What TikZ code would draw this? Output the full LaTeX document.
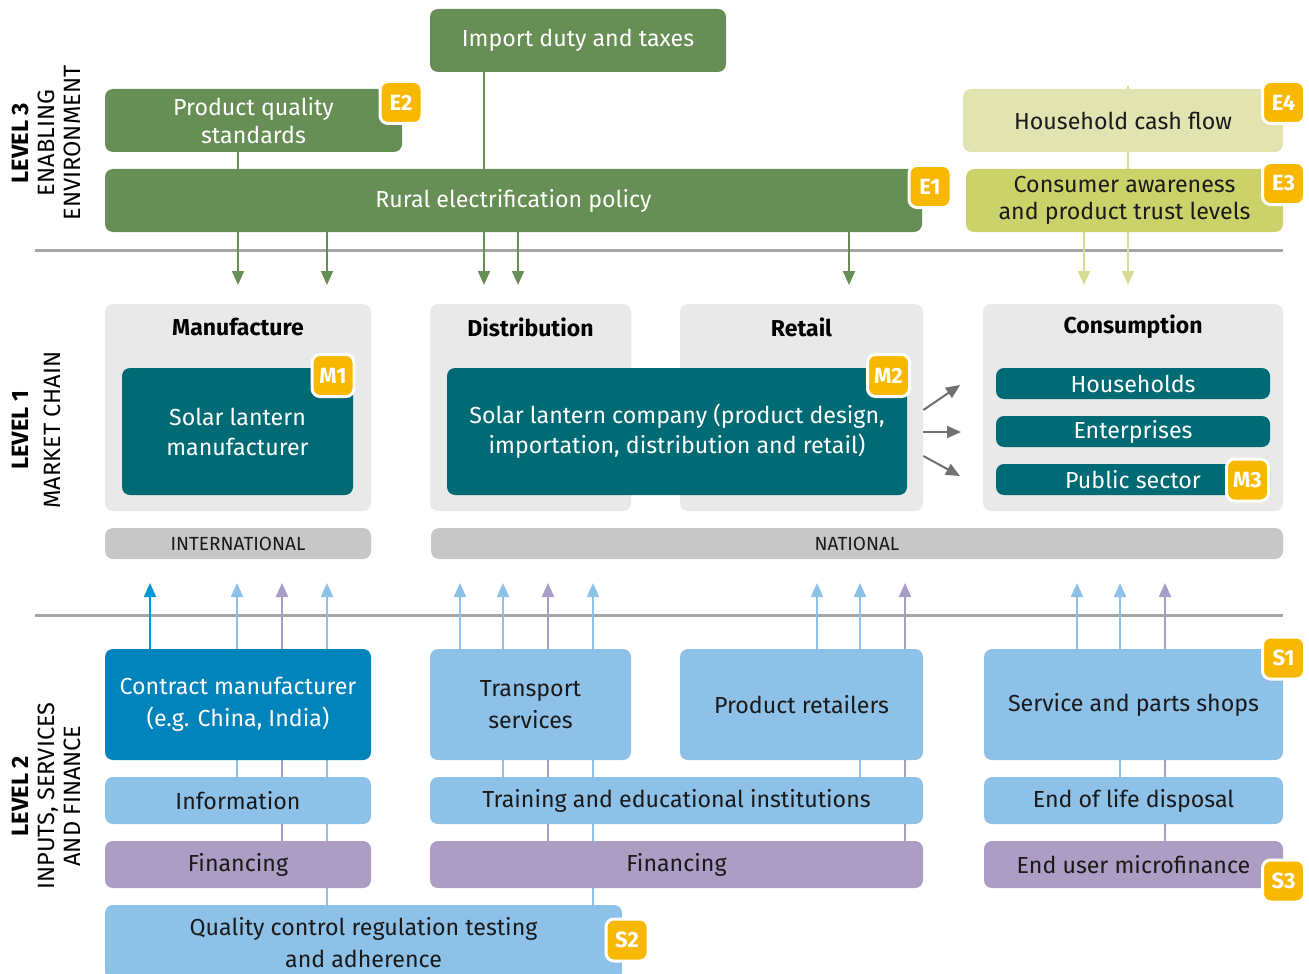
\documentclass[tikz,border=0pt]{standalone}
\usepackage{fontspec}
\setmainfont{Fira Sans}
\usetikzlibrary{arrows.meta,backgrounds}

\tikzset{
  wh/.style 2 args={minimum width=#1*0.5pt, minimum height=#2*0.5pt},
  box/.style={rounded corners=4pt, inner sep=0pt, align=center,
    font=\fontsize{11.6}{15}\selectfont},
  envbox/.style={box, fill=GREEN, text=white},
  panel/.style={box, fill=PANEL},
  tealbox/.style={box, fill=TEAL, text=white},
  barbox/.style={box, fill=BAR, text=DARK, font=\fontsize{9.5}{10}\selectfont},
  svcbox/.style={box, fill=LBLUE, text=DARK},
  finbox/.style={box, fill=PURPLE, text=DARK},
  title/.style={font=\fontsize{11.5}{12}\selectfont\bfseries, text=black, inner sep=0pt},
  badge/.style={rounded corners=4pt, fill=YELLOW, draw=white, line width=1.5pt,
    minimum size=21pt, inner sep=0pt, text=white,
    font=\fontsize{11}{12}\selectfont\bfseries},
  levellabel/.style={rotate=90, align=center, inner sep=0pt, text=black,
    font=\fontsize{11.8}{13}\selectfont},
  tip/.style={-{Triangle[length=7pt,width=6pt]}, line width=1pt},
  garrow/.style={tip, draw=GREEN},
  yarrow/.style={tip, draw=LIME},
  greyarrow/.style={tip, draw=GREYARR},
  lbarrow/.style={tip, draw=LBLINE},
  purarrow/.style={tip, draw=PURLINE},
  dbarrow/.style={tip, draw=DBLINE},
  rule/.style={draw=RULE, line width=1.5pt}
}

\begin{document}
\begin{tikzpicture}[x=0.5pt,y=-0.5pt]

\definecolor{GREEN}{RGB}{103,142,84}
\definecolor{PALE}{RGB}{225,228,176}
\definecolor{OLIVE}{RGB}{203,210,106}
\definecolor{LIME}{RGB}{214,220,147}
\definecolor{YELLOW}{RGB}{249,184,0}
\definecolor{PANEL}{RGB}{233,233,233}
\definecolor{TEAL}{RGB}{0,107,117}
\definecolor{BAR}{RGB}{198,199,198}
\definecolor{DARK}{RGB}{26,26,26}
\definecolor{CBLUE}{RGB}{0,132,187}
\definecolor{LBLUE}{RGB}{141,193,232}
\definecolor{PURPLE}{RGB}{171,157,196}
\definecolor{LBLINE}{RGB}{141,193,232}
\definecolor{PURLINE}{RGB}{169,156,198}
\definecolor{DBLINE}{RGB}{0,150,214}
\definecolor{GREYARR}{RGB}{112,112,112}
\definecolor{RULE}{RGB}{165,165,165}

\useasboundingbox (0,0) rectangle (1309,973);

\node[levellabel] (lev3) at (46,143) {\textbf{LEVEL 3}\\ENABLING\\ENVIRONMENT};
\node[levellabel] (lev1) at (36,430) {\textbf{LEVEL 1}\\[3pt]MARKET CHAIN};
\node[levellabel] (lev2) at (46,796) {\textbf{LEVEL 2}\\INPUTS, SERVICES\\AND FINANCE};

\node[envbox, wh={296}{63}] (imp) at (578,40.5) {Import duty and taxes};
\node[envbox, wh={297}{63}, font=\fontsize{11.6}{14}\selectfont] (pqs) at (253.5,120.5) {Product quality\\standards};
\node[envbox, wh={817}{63}] (rep) at (513.5,200.5) {Rural electrification policy};
\node[box, fill=PALE, text=DARK, wh={320}{63}] (hcf) at (1123,120.5) {Household cash flow};
\node[box, fill=OLIVE, text=DARK, wh={317}{63}, font=\fontsize{11.6}{13.5}\selectfont] (cap) at (1124.5,200.5) {Consumer awareness\\and product trust levels};

\node[badge] (e2) at (401,102.5) {E2};
\node[badge] (e1) at (930,186.5) {E1};
\node[badge] (e4) at (1283.5,102.5) {E4};
\node[badge] (e3) at (1283.5,183.5) {E3};

\node[panel, wh={266}{207}] (man) at (238,407.5) {};
\node[panel, wh={201}{207}] (dis) at (530.5,407.5) {};
\node[panel, wh={243}{207}] (ret) at (801.5,407.5) {};
\node[panel, wh={300}{207}] (con) at (1133,407.5) {};
\node[title] (manT) at (238,327) {Manufacture};
\node[title] (disT) at (530.5,327) {Distribution};
\node[title] (retT) at (801.5,327) {Retail};
\node[title] (conT) at (1133,327) {Consumption};

\node[tealbox, wh={231}{127}] (slm) at (237.5,431.5) {Solar lantern\\manufacturer};
\node[tealbox, wh={460}{127}] (slc) at (677,431.5) {Solar lantern company (product design,\\importation, distribution and retail)};
\node[tealbox, wh={274}{31}] (hh) at (1133,383.5) {Households};
\node[tealbox, wh={274}{31}] (ent) at (1133,431.5) {Enterprises};
\node[tealbox, wh={274}{31}] (pub) at (1133,479.5) {Public sector};

\node[badge] (m1) at (333,375.5) {M1};
\node[badge] (m2) at (888.5,375.5) {M2};
\node[badge] (m3) at (1247.5,480) {M3};

\node[barbox, wh={266}{31}] (intl) at (238,543.5) {INTERNATIONAL};
\node[barbox, wh={852}{31}] (natl) at (857,543.5) {NATIONAL};

\node[box, fill=CBLUE, text=white, wh={266}{111}, font=\fontsize{11.6}{16}\selectfont] (cm) at (238,704.5) {Contract manufacturer\\(e.g. China, India)};
\node[svcbox, wh={201}{111}, font=\fontsize{11.6}{16}\selectfont] (ts) at (530.5,704.5) {Transport\\services};
\node[svcbox, wh={243}{111}] (pr) at (801.5,704.5) {Product retailers};
\node[svcbox, wh={299}{111}] (sps) at (1133.5,704.5) {Service and parts shops};
\node[svcbox, wh={266}{47}] (info) at (238,800.5) {Information};
\node[svcbox, wh={493}{47}] (tei) at (676.5,800.5) {Training and educational institutions};
\node[svcbox, wh={299}{47}] (eol) at (1133.5,800.5) {End of life disposal};
\node[finbox, wh={266}{47}] (fin1) at (238,864.5) {Financing};
\node[finbox, wh={493}{47}] (fin2) at (676.5,864.5) {Financing};
\node[finbox, wh={299}{47}] (eum) at (1133.5,864.5) {End user microfinance};
\node[svcbox, wh={517}{75}, font=\fontsize{11.6}{16}\selectfont] (qc) at (363.5,942.5) {Quality control regulation testing\\and adherence};

\node[badge] (s1) at (1283.5,658) {S1};
\node[badge] (s3) at (1283.5,881) {S3};
\node[badge] (s2) at (627,940) {S2};

\coordinate (g1) at (238,285);
\coordinate (g2) at (327,285);
\coordinate (g3) at (484,285);
\coordinate (g4) at (518,285);
\coordinate (g5) at (849,285);
\coordinate (y1) at (1084,285);
\coordinate (y2) at (1128,285);
\coordinate (c1) at (960,385);
\coordinate (c2) at (961,432);
\coordinate (c3) at (960,476);
\coordinate (r1) at (35,250);
\coordinate (r2) at (1283,250);
\coordinate (r3) at (35,615);
\coordinate (r4) at (1283,615);

\foreach \n/\x in {b1/150,b2/237,b3/282,b4/327,b5/460,b6/503,b7/548,b8/593,
  b9/817,b10/860,b11/905,b12/1077,b13/1120,b14/1165}
  \coordinate (\n) at (\x,583);

\begin{pgfonlayer}{background}
\draw[rule] (r1) -- (r2);
\draw[rule] (r3) -- (r4);

\draw[garrow] (pqs.south -| g1) -- (g1);
\draw[garrow] (rep.south -| g2) -- (g2);
\draw[garrow] (imp.south -| g3) -- (g3);
\draw[garrow] (rep.south -| g4) -- (g4);
\draw[garrow] (rep.south -| g5) -- (g5);
\draw[yarrow] (cap.south -| y1) -- (y1);
\draw[yarrow] ([yshift=1.5pt]hcf.north -| y2) -- (y2);

\draw[dbarrow] (cm.north -| b1) -- (b1);
\foreach \s/\t in {info/b2,qc/b4,ts/b5,tei/b6,qc/b8,pr/b9,tei/b10,sps/b12,eol/b13}
  \draw[lbarrow] (\s.north -| \t) -- (\t);
\foreach \s/\t in {fin1/b3,fin2/b7,fin2/b11,eum/b14}
  \draw[purarrow] (\s.north -| \t) -- (\t);
\end{pgfonlayer}

\draw[greyarrow] ([yshift=-1.25pt]ret.east) -- (c1);
\draw[greyarrow] ([yshift=-12.25pt]ret.east) -- (c2);
\draw[greyarrow] ([yshift=-24.25pt]ret.east) -- (c3);

\end{tikzpicture}
\end{document}
